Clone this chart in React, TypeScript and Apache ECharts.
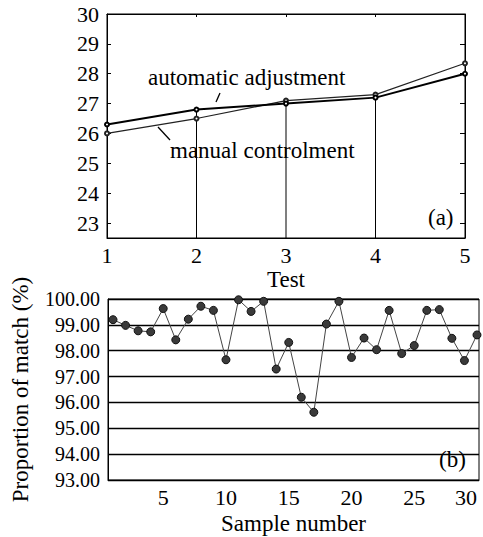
import React, { useEffect, useRef } from "react";
import * as echarts from "echarts";

const testCategories = [1, 2, 3, 4, 5];
const automaticAdjustment = [26.3, 26.8, 27.0, 27.2, 28.0];
const manualControlment = [26.0, 26.5, 27.1, 27.3, 28.35];
const dropIndices = [1, 2, 3];
const topYTicks = [23, 24, 25, 26, 27, 28, 29, 30];

const sampleNumbers = Array.from({ length: 30 }, (_, i) => i + 1);
const matchProportion = [
  99.2, 98.98, 98.77, 98.73, 99.63, 98.42, 99.22, 99.72, 99.56, 97.65,
  99.97, 99.52, 99.91, 97.29, 98.32, 96.2, 95.62, 99.03, 99.91, 97.74,
  98.49, 98.04, 99.56, 97.89, 98.2, 99.56, 99.59, 98.48, 97.62, 98.61,
];
const bottomXTicks = [5, 10, 15, 20, 25, 30];

const FONT = "'Liberation Serif', 'Times New Roman', Times, serif";

export default function App() {
  const ref = useRef<HTMLDivElement>(null);
  useEffect(() => {
    if (!ref.current) return;
    const chart = echarts.init(ref.current, undefined, { renderer: "svg" });
    const labelStyle = { color: "#000", fontFamily: FONT, fontSize: 22 };
    const nameStyle = { color: "#000", fontFamily: FONT, fontSize: 23 };
    const axisLineBlack = { show: true, lineStyle: { color: "#000", width: 1 } };
    const topMin = 22.5;
    const annot = (text: string, x: number, y: number) => ({
      type: "text", x, y,
      style: { text, fontFamily: FONT, fontSize: 23, fill: "#000", verticalAlign: "middle" },
    });
    chart.setOption({
      animation: false,
      backgroundColor: "#fff",
      grid: [
        { left: 107, top: 14, width: 358, height: 224, show: true, borderColor: "#000", borderWidth: 1, backgroundColor: "transparent", outerBoundsMode: "none", containLabel: false },
        { left: 108, top: 299, width: 371, height: 181, show: true, borderColor: "#000", borderWidth: 1, backgroundColor: "transparent", outerBoundsMode: "none", containLabel: false },
      ],
      xAxis: [
        {
          gridIndex: 0, type: "value", min: 1, max: 5, interval: 1,
          axisLine: axisLineBlack, axisTick: { show: false }, splitLine: { show: false },
          axisLabel: { ...labelStyle, margin: 6 },
          name: "Test", nameLocation: "middle", nameGap: 30, nameTextStyle: nameStyle, nameMoveOverlap: false,
        },
        {
          gridIndex: 0, type: "value", min: 1, max: 5, interval: 1, position: "top",
          axisLine: axisLineBlack, axisTick: { show: true, inside: true, length: 3, lineStyle: { color: "#000" } },
          axisLabel: { show: false }, splitLine: { show: false },
        },
        {
          gridIndex: 1, type: "value", min: 0.6, max: 30.16,
          axisLine: axisLineBlack, axisTick: { show: false }, splitLine: { show: false },
          axisLabel: { ...labelStyle, margin: 6, customValues: bottomXTicks, alignMaxLabel: "right" },
          name: "Sample number", nameLocation: "middle", nameGap: 32, nameTextStyle: nameStyle, nameMoveOverlap: false,
        },
      ],
      yAxis: [
        {
          gridIndex: 0, type: "value", min: topMin, max: 30,
          axisLine: axisLineBlack,
          axisTick: { show: true, inside: true, length: 4, lineStyle: { color: "#000" }, customValues: topYTicks },
          axisLabel: { ...labelStyle, margin: 8, customValues: topYTicks },
          splitLine: { show: false },
        },
        {
          gridIndex: 0, type: "value", min: topMin, max: 30, position: "right",
          axisLine: axisLineBlack,
          axisTick: { show: true, inside: true, length: 5, lineStyle: { color: "#000" }, customValues: topYTicks },
          axisLabel: { show: false }, splitLine: { show: false },
        },
        {
          gridIndex: 1, type: "value", min: 93, max: 100, interval: 1,
          axisLine: axisLineBlack, axisTick: { show: false },
          axisLabel: { ...labelStyle, fontSize: 20, margin: 8, formatter: (v: number) => v.toFixed(2) },
          splitLine: { show: true, lineStyle: { color: "#000", width: 1.3 } },
          name: "Proportion of match (%)", nameLocation: "middle", nameRotate: 90, nameGap: 76,
          nameTextStyle: nameStyle, nameMoveOverlap: false,
        },
      ],
      series: [
        {
          type: "bar", xAxisIndex: 0, yAxisIndex: 0, barWidth: 1, clip: true,
          itemStyle: { color: "#000" }, silent: true,
          data: dropIndices.map((i) => [testCategories[i], Math.max(automaticAdjustment[i], manualControlment[i])]),
        },
        {
          name: "manual controlment", type: "line", xAxisIndex: 0, yAxisIndex: 0,
          data: testCategories.map((c, i) => [c, manualControlment[i]]),
          symbol: "emptyCircle", symbolSize: 4,
          lineStyle: { color: "#222", width: 1.2 }, itemStyle: { color: "#222", borderWidth: 1 },
        },
        {
          name: "automatic adjustment", type: "line", xAxisIndex: 0, yAxisIndex: 0,
          data: testCategories.map((c, i) => [c, automaticAdjustment[i]]),
          symbol: "emptyCircle", symbolSize: 4,
          lineStyle: { color: "#000", width: 2 }, itemStyle: { color: "#000", borderWidth: 1 },
        },
        {
          name: "match", type: "line", xAxisIndex: 2, yAxisIndex: 2,
          data: sampleNumbers.map((s, i) => [s, matchProportion[i]]),
          symbol: "circle", symbolSize: 8,
          lineStyle: { color: "#444", width: 1 },
          itemStyle: { color: "#3a3a3a", borderColor: "#111", borderWidth: 1 },
        },
      ],
      graphic: [
        annot("automatic adjustment", 148, 77),
        annot("manual controlment", 170, 150),
        { type: "line", shape: { x1: 216, y1: 102, x2: 220, y2: 93 }, style: { stroke: "#000", lineWidth: 1.3 } },
        { type: "line", shape: { x1: 158, y1: 127, x2: 170, y2: 140 }, style: { stroke: "#000", lineWidth: 1.3 } },
        annot("(a)", 428, 217),
        annot("(b)", 439, 459),
      ],
    });
    return () => chart.dispose();
  }, []);
  return <div ref={ref} style={{ width: 483, height: 537, position: "absolute", left: 0, top: 0 }} />;
}
